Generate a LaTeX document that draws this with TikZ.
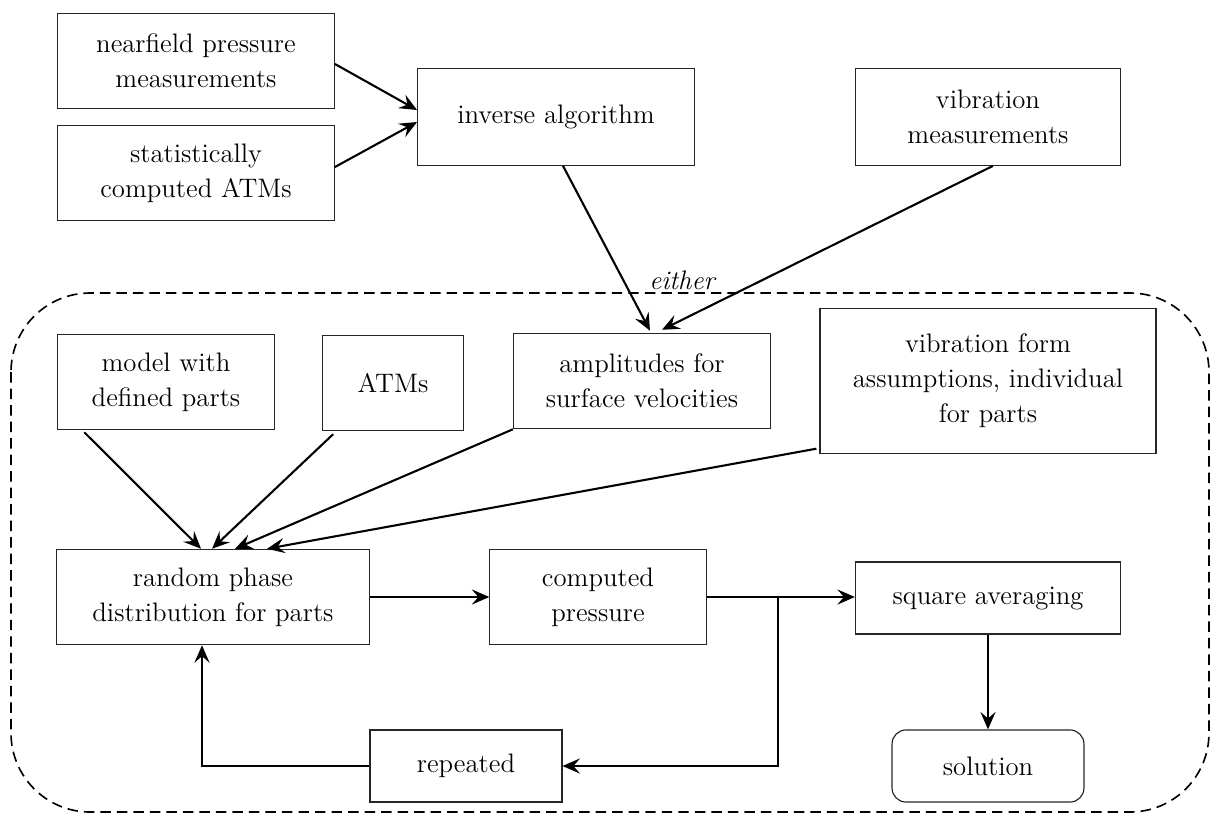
\documentclass[tikz,border=0pt]{standalone}
\usetikzlibrary{arrows.meta,calc}
\begin{document}
\begin{tikzpicture}[
    x=0.43pt, y=-0.43pt,
    every node/.style={font=\fontsize{11.5}{15}\selectfont},
    block/.style={rectangle, draw=black!85, line width=0.5pt, align=center, inner sep=0pt},
    flow/.style={-{Stealth[length=7.5pt, width=6.5pt, inset=2.8pt]}, line width=0.9pt}
]
    \useasboundingbox (0,0) rectangle (1210,814);
    \draw[dash pattern=on 4.5pt off 2.6pt, line width=0.7pt, rounded corners=34pt] (11,293) rectangle (1209,812);

    \node[block, minimum width=119pt, minimum height=41pt] at (196,61) (near) {nearfield pressure\\measurements};
    \node[block, minimum width=119pt, minimum height=41pt] at (196,173) (stat) {statistically\\computed ATMs};
    \node[block, minimum width=119pt, minimum height=41.5pt] at (556,117) (inv) {inverse algorithm};
    \node[block, minimum width=114pt, minimum height=41.5pt] at (988,117) (vib) {vibration\\measurements};
    \node[font=\fontsize{11.5}{15}\selectfont\itshape] at (682,280) (either) {either};

    \node[block, minimum width=93pt, minimum height=41pt] at (166,382) (model) {model with\\defined parts};
    \node[block, minimum width=60.5pt, minimum height=41pt] at (393,383) (atm) {ATMs};
    \node[block, minimum width=110.5pt, minimum height=41pt] at (642,381) (amp) {amplitudes for\\surface velocities};
    \node[block, minimum width=144.5pt, minimum height=62pt] at (988,381) (vform) {vibration form\\assumptions, individual\\for parts};

    \node[block, minimum width=134.5pt, minimum height=41pt] at (213,597) (rpd) {random phase\\distribution for parts};
    \node[block, minimum width=93pt, minimum height=41pt] at (598,597) (comp) {computed\\pressure};
    \node[block, minimum width=114pt, minimum height=31pt] at (988,598) (sq) {square averaging};
    \node[block, rounded corners=6pt, minimum width=82.5pt, minimum height=31pt] at (988,766) (sol) {solution};
    \node[block, minimum width=82.5pt, minimum height=31pt] at (466,766) (rep) {repeated};
    \coordinate (split) at (778,597);

    \draw[flow] ($(near.east)+(0,3)$) -- ($(inv.west)+(0,-7)$);
    \draw[flow] ($(stat.east)+(0,-6)$) -- ($(inv.west)+(0,5)$);
    \draw[flow] ($(inv.south)+(7,0)$) -- ($(amp.north)+(8,-2)$);
    \draw[flow] ($(vib.south)+(5,0)$) -- ($(amp.north)+(20,-3)$);

    \draw[flow] ($(model.south west)+(27,2)$) -- ($(rpd.north west)+(145,0)$);
    \draw[flow] ($(atm.south west)+(11,3)$) -- ($(rpd.north west)+(156,0)$);
    \draw[flow] (amp.south west) -- ($(rpd.north west)+(179,0)$);
    \draw[flow] ($(vform.south west)+(-3,-5)$) -- ($(rpd.north west)+(211,0)$);

    \draw[flow] (rpd.east) -- (comp.west);
    \draw[flow] (comp.east) -- (sq.west |- comp.east);
    \draw[flow] (split) |- (rep.east);
    \draw[flow] (rep.west) -| ($(rpd.south)+(-11,0)$);
    \draw[flow] (sq.south) -- (sol.north);
\end{tikzpicture}
\end{document}
